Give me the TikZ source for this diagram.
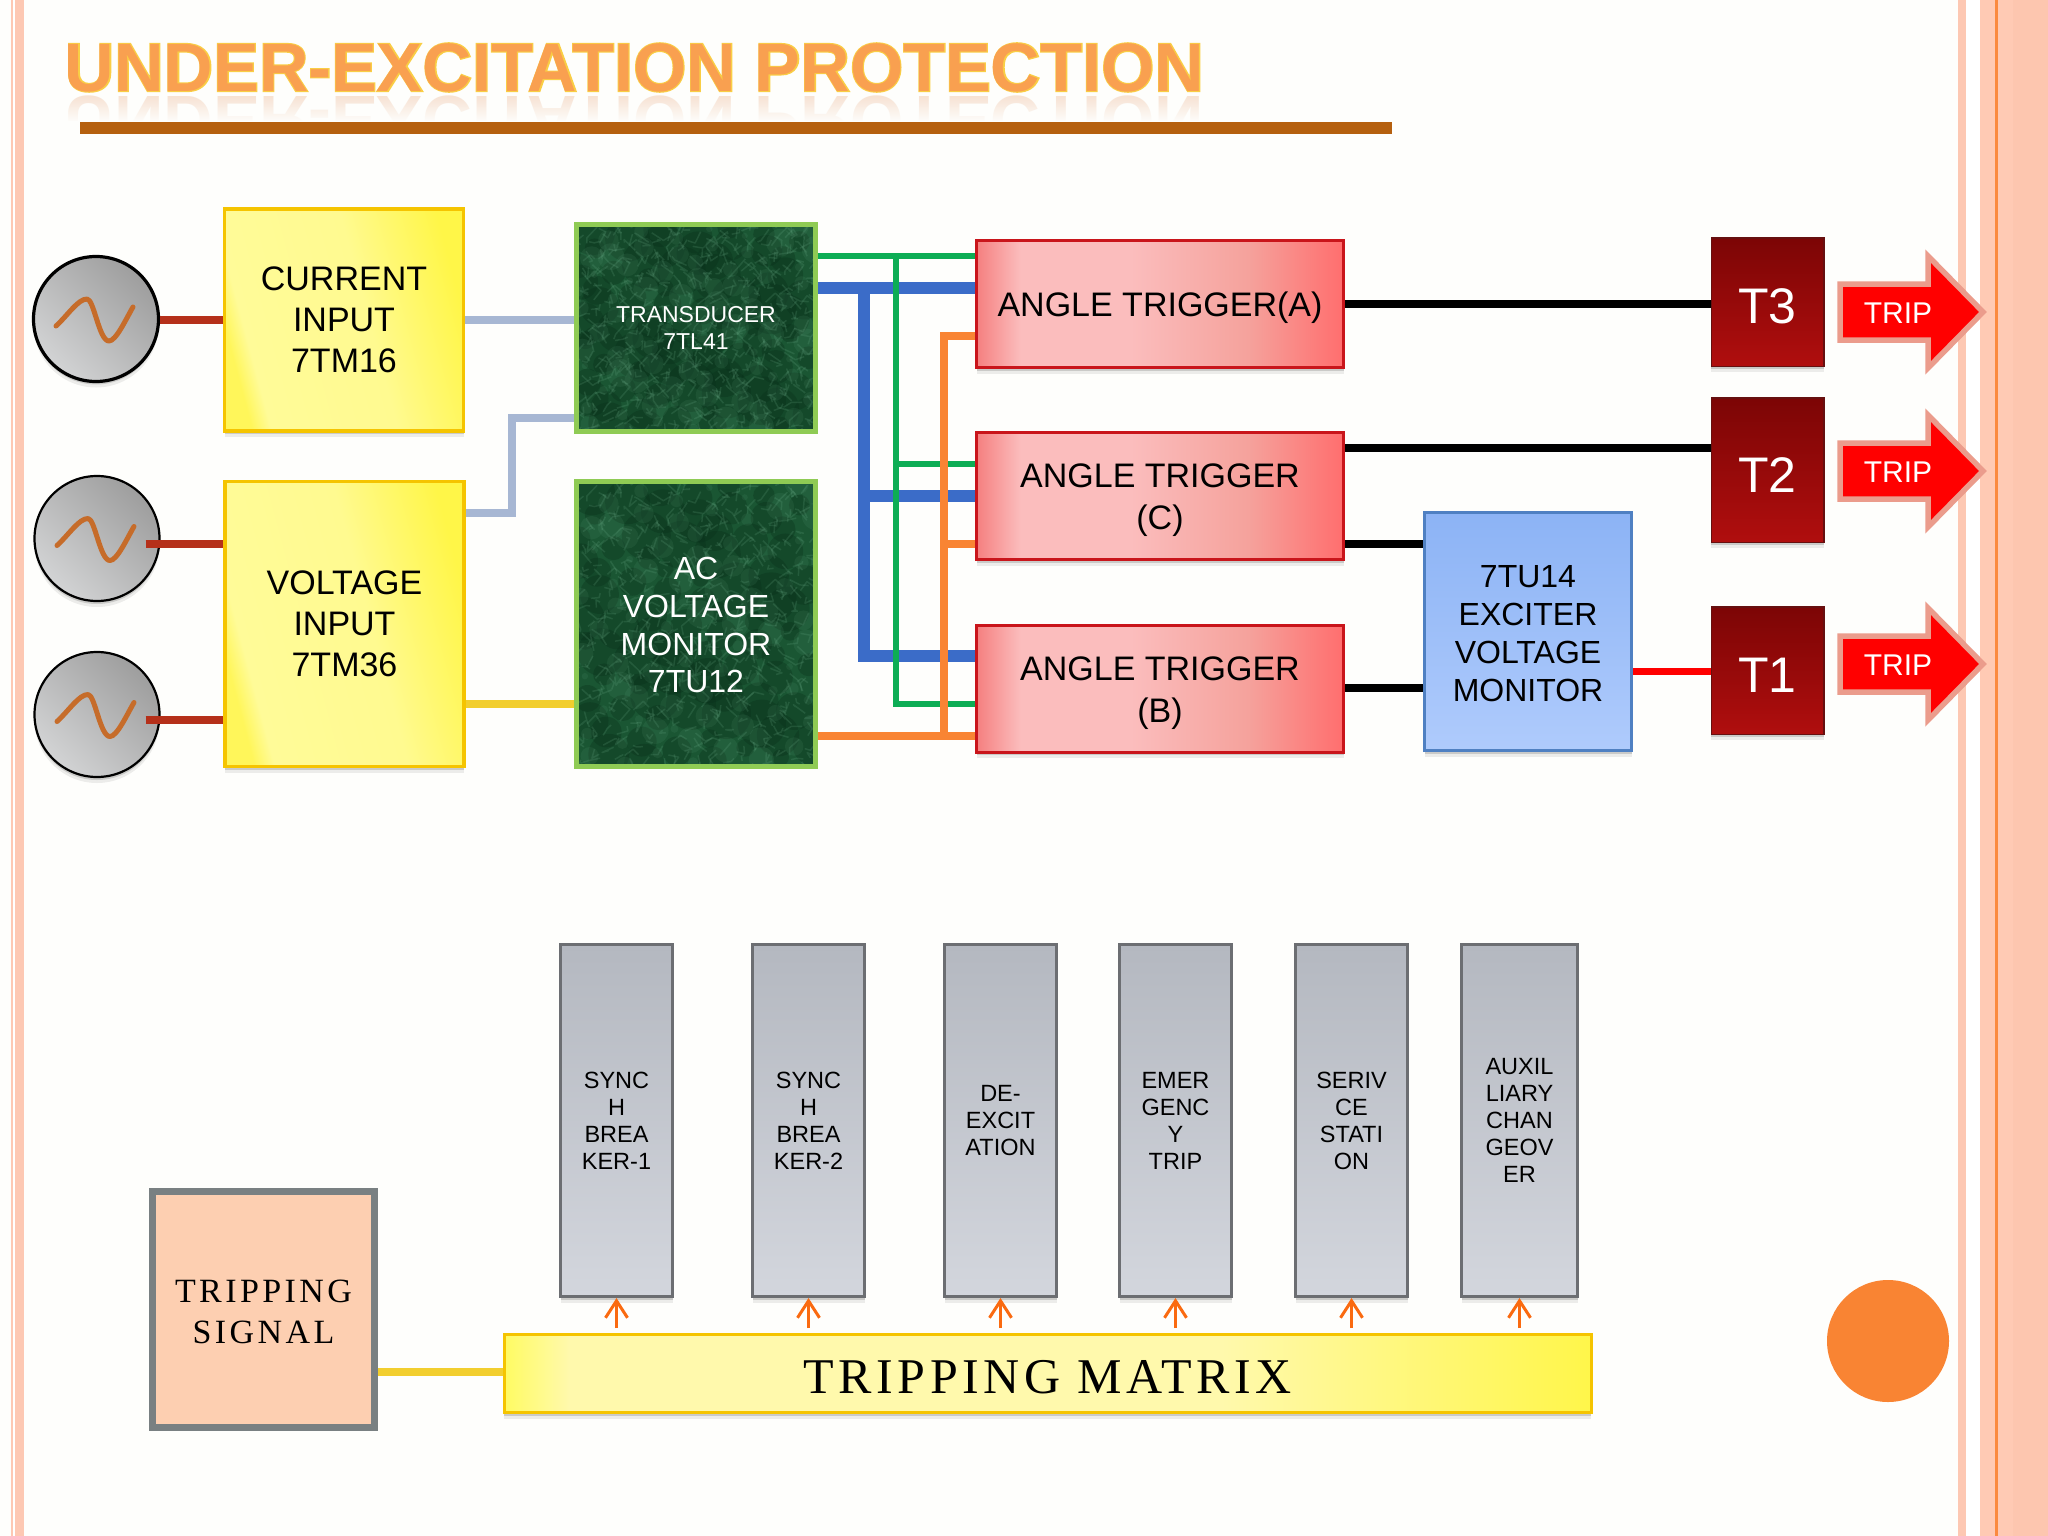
\documentclass[tikz,border=0pt]{standalone}
\usepackage{fontspec}
\setmainfont{Liberation Sans}
\newfontfamily\titlef{Liberation Sans Bold}
\newfontfamily\titlefb[FakeBold=3]{Liberation Sans Bold}
\newfontfamily\spserif[LetterSpace=9]{Liberation Serif}
\newfontfamily\spserifb[LetterSpace=10]{Liberation Serif}
\usetikzlibrary{shadows,arrows.meta,fadings}
\definecolor{bgc}{HTML}{FEFEFC}
\definecolor{stripe}{HTML}{FDC8B3}
\definecolor{stripeR}{HTML}{FFCAB4}
\definecolor{stripeD}{HTML}{FDC6AF}
\definecolor{stripeO}{HTML}{FB8A3F}
\definecolor{ruleb}{HTML}{B5600F}
\definecolor{titleo}{HTML}{F9A050}
\definecolor{titley}{HTML}{F9CE45}
\definecolor{titler}{HTML}{E8A578}
\definecolor{gold}{HTML}{F5C400}
\definecolor{wirered}{HTML}{B5301A}
\definecolor{wiregrey}{HTML}{A7B7D3}
\definecolor{wireyel}{HTML}{F2CE2E}
\definecolor{wblue}{HTML}{3B6CC8}
\definecolor{wgreen}{HTML}{0DAD55}
\definecolor{worange}{HTML}{F98433}
\definecolor{mgreen}{HTML}{8FCB54}
\definecolor{mbase}{HTML}{1A5633}
\definecolor{mdark}{HTML}{08301A}
\definecolor{mlight}{HTML}{6FB08C}
\definecolor{boxred}{HTML}{C9151B}
\definecolor{colgrey}{HTML}{6C6E72}
\definecolor{colA}{HTML}{B4B8C0}
\definecolor{colB}{HTML}{D3D6DD}
\definecolor{sigfill}{HTML}{FDCFB1}
\definecolor{siggrey}{HTML}{798082}
\definecolor{arrowo}{HTML}{EB9C8C}
\definecolor{darrow}{HTML}{FA6A10}
\definecolor{wavec}{HTML}{C66C2A}
\definecolor{excb}{HTML}{4F80C2}
\definecolor{exA}{HTML}{8CB3F5}
\definecolor{exB}{HTML}{AFCBFC}
\definecolor{tA}{HTML}{7C0505}
\definecolor{tB}{HTML}{B00E0E}
\definecolor{tE}{HTML}{661010}
\definecolor{yA}{HTML}{FFF65A}
\definecolor{yB}{HTML}{FFFB98}
\definecolor{yC}{HTML}{FFFA90}
\definecolor{yD}{HTML}{FFF648}
\definecolor{rA}{HTML}{F57F7F}
\definecolor{rB}{HTML}{FBBDBD}
\definecolor{rC}{HTML}{F5A29C}
\definecolor{rD}{HTML}{FF6E6E}
\definecolor{myA}{HTML}{FFFB62}
\definecolor{myB}{HTML}{FFF9AC}
\definecolor{myD}{HTML}{FFF64A}
\definecolor{cirA}{HTML}{D2D3D4}
\definecolor{cirB}{HTML}{9E9E9E}
\pgfdeclarehorizontalshading{redgrad}{100bp}{color(0bp)=(rA); color(25bp)=(rA); color(31bp)=(rB); color(46bp)=(rB); color(62bp)=(rC); color(75bp)=(rD); color(100bp)=(rD)}
\pgfdeclarehorizontalshading{matgrad}{100bp}{color(0bp)=(myA); color(25bp)=(myA); color(28bp)=(myB); color(58bp)=(myB); color(75bp)=(myD); color(100bp)=(myD)}
\pgfdeclarehorizontalshading{yelgrad}{100bp}{color(0bp)=(yA); color(25bp)=(yA); color(29bp)=(yB); color(55bp)=(yC); color(75bp)=(yD); color(100bp)=(yD)}
\newcommand{\marbleat}[4]{%
  \begin{scope}
  \path[clip] (#1-#3/2,#2-#4/2) rectangle (#1+#3/2,#2+#4/2);
  \fill[mbase] (#1-#3/2,#2-#4/2) rectangle (#1+#3/2,#2+#4/2);
  \begin{scope}[shift={(#1,#2)}]
  \foreach \i in {1,...,80}{%
    \pgfmathsetmacro\xa{(mod(\i*0.7548777,1)-.5)*#3}\pgfmathsetmacro\ya{(mod(\i*0.5698403,1)-.5)*#4}%
    \pgfmathsetmacro\rr{8+mod(\i*0.381966,1)*18}%
    \fill[mdark,opacity=.32] (\xa,\ya) circle (\rr);}
  \foreach \i in {81,...,170}{%
    \pgfmathsetmacro\xa{(mod(\i*0.7548777,1)-.5)*#3}\pgfmathsetmacro\ya{(mod(\i*0.5698403,1)-.5)*#4}%
    \pgfmathsetmacro\rr{3+mod(\i*0.381966,1)*11}%
    \fill[mlight,opacity=.1] (\xa,\ya) circle (\rr);}
  \foreach \i in {171,...,630}{%
    \pgfmathsetmacro\xa{(mod(\i*0.7548777,1)-.5)*#3}\pgfmathsetmacro\ya{(mod(\i*0.5698403,1)-.5)*#4}%
    \pgfmathsetmacro\xb{(mod(\i*0.2718281,1)-.5)*24}\pgfmathsetmacro\yb{(mod(\i*0.1414213,1)-.5)*24}%
    \pgfmathsetmacro\xc{(mod(\i*0.3141592,1)-.5)*18}\pgfmathsetmacro\yc{(mod(\i*0.1732050,1)-.5)*18}%
    \draw[mlight,opacity=.18,line width=1.5pt,line join=round] (\xa,\ya) -- ++(\xb,\yb) -- ++(\xc,\yc);}
  \end{scope}
  \end{scope}}
\tikzset{
  x=1pt,y=-1pt,
  softsh/.style={drop shadow={shadow xshift=0pt,shadow yshift=-6pt,opacity=.07,fill=black},drop shadow={shadow xshift=0pt,shadow yshift=-3pt,opacity=.14,fill=black}},
  base/.style={inner sep=0pt,align=center,text=black},
  yellowbox/.style={base,softsh,draw=gold,line width=3.5pt,shading=yelgrad,shading angle=15,font=\fontsize{34}{41}\selectfont,minimum width=239pt},
  marblebox/.style={base,draw=mgreen,line width=5.5pt,text=white,minimum width=239pt},
  redbox/.style={base,softsh,draw=boxred,line width=3pt,shading=redgrad,font=\fontsize{34}{42}\selectfont,minimum width=367pt,minimum height=127pt},
  tbox/.style={base,softsh,draw=tE,line width=1.5pt,top color=tA,bottom color=tB,text=white,font=\fontsize{50}{50}\selectfont,minimum width=112.5pt,text height=44pt},
  excbox/.style={base,softsh,draw=excb,line width=3pt,top color=exA,bottom color=exB,font=\fontsize{32}{38}\selectfont},
  colbox/.style={base,softsh,draw=colgrey,line width=3pt,top color=colA,bottom color=colB,font=\fontsize{23.5}{27}\selectfont,minimum height=352pt},
  gen/.style={circle,inner sep=0pt,minimum size=125pt,draw=black,left color=cirA,right color=cirB,shading angle=135,drop shadow={shadow xshift=0pt,shadow yshift=-6pt,opacity=.07,fill=black},drop shadow={shadow xshift=0pt,shadow yshift=-3pt,opacity=.14,fill=black}},
  wavepen/.style={draw=wavec,line width=5pt,line cap=round,line join=round},
  acwave/.pic={\draw[wavepen] (-40,7) .. controls (-28,-4) and (-18,-20) .. (-9,-20) .. controls (-2,-20) and (3,22) .. (13,22) .. controls (20,22) and (30,0) .. (37,-12);},
  wire/.style={preaction={draw=black,opacity=.1,transform canvas={yshift=-3pt}},line join=miter},
  wred/.style={wire,draw=wirered,line width=8pt},
  wgrey/.style={wire,draw=wiregrey,line width=8pt},
  wyel/.style={wire,draw=wireyel,line width=8pt},
  wbl/.style={draw=wblue,line width=12pt},
  wgr/.style={draw=wgreen,line width=6pt},
  wor/.style={draw=worange,line width=7.5pt},
  wblack/.style={wire,draw=black,line width=7.5pt},
  wrd/.style={draw=red,line width=7pt},
  triparrow/.style={draw=arrowo,line width=5.5pt,fill=red},
  triptext/.style={inner sep=0pt,text=white,font=\fontsize{30}{30}\selectfont},
  upar/.style={draw=darrow,line width=3pt,-{Straight Barb[length=17pt,width=22pt]}},
}
\newcommand{\triparrowat}[1]{\path[triparrow] (1840,#1-28) -- (1928,#1-28) -- (1928,#1-56) -- (1983,#1) -- (1928,#1+56) -- (1928,#1+28) -- (1840,#1+28) -- cycle;}
\newcommand{\lift}[1]{\rule{0pt}{#1pt}}
\begin{document}
\begin{tikzpicture}
\useasboundingbox (0,0) rectangle (2048,1536);
\fill[bgc] (0,0) rectangle (2048,1536);
% side stripes
\fill[stripe] (10.7,0) rectangle (12.7,1536);
\fill[white] (12.7,0) rectangle (15,1536);
\fill[stripe] (15,0) rectangle (24,1536);
\fill[stripe] (1958,0) rectangle (1966,1536);
\fill[white] (1966,0) rectangle (1980,1536);
\fill[stripeR] (1980,0) rectangle (2048,1536);
\fill[stripeD] (2013,0) rectangle (2048,1536);
\fill[stripeO] (1995,0) rectangle (1998,1536);
% title
\node[inner sep=0pt,yscale=-1,transform shape,opacity=.35,font=\titlef\fontsize{68.5}{68.5}\selectfont,text=titler] (titlerefl) at (634.5,120.5) {UNDER-EXCITATION PROTECTION};
\fill[bgc,path fading=north] (50,92) rectangle (1250,122);
\fill[bgc] (50,121) rectangle (1250,165);
\node[inner sep=0pt,font=\titlefb\fontsize{68.5}{68.5}\selectfont,text=titley] (titleedge) at (634.5,67.5) {UNDER-EXCITATION PROTECTION};
\node[inner sep=0pt,font=\titlef\fontsize{68.5}{68.5}\selectfont,text=titleo] (title) at (634.5,67.5) {UNDER-EXCITATION PROTECTION};
\fill[ruleb] (80,122) rectangle (1392,134);
% generators
\node[gen,line width=3.2pt] (g1) at (96,319) {};
\node[gen,line width=2.2pt] (g2) at (97,538.5) {};
\node[gen,line width=2.2pt] (g3) at (97,714.5) {};
\pic at (g1.center) {acwave};
\pic at (g2.center) {acwave};
\pic at (g3.center) {acwave};
% input boxes
\node[yellowbox,minimum height=222pt] (cur) at (344,320) {CURRENT\\INPUT\\7TM16};
\node[yellowbox,minimum height=285pt] (volt) at (344.5,624) {VOLTAGE\\INPUT\\7TM36};
% marble boxes
\marbleat{696}{328}{240}{208}
\marbleat{696}{624}{240}{286}
\node[marblebox,minimum height=207pt,font=\fontsize{23}{27}\selectfont] (trans) at (696,328) {TRANSDUCER\\7TL41};
\node[marblebox,minimum height=285pt,font=\fontsize{32}{37.6}\selectfont] (acv) at (696,624) {\lift{25}AC\\VOLTAGE\\MONITOR\\7TU12};
% trigger boxes
\node[redbox,text height=33pt] (ta) at (1160,304) {ANGLE TRIGGER(A)};
\node[redbox] (tc) at (1160,496) {\lift{33}ANGLE TRIGGER\\(C)};
\node[redbox] (tb) at (1160,688.5) {\lift{33}ANGLE TRIGGER\\(B)};
% exciter monitor
\node[excbox,minimum width=207pt,minimum height=238pt] (exc) at (1528,631.5) {\lift{27}7TU14\\EXCITER\\VOLTAGE\\MONITOR};
% T boxes
\node[tbox,minimum height=128.5pt] (t3) at (1767.5,302) {T3};
\node[tbox,minimum height=144.5pt] (t2) at (1767.5,470) {T2};
\node[tbox,minimum height=127.5pt] (t1) at (1767.5,670.5) {T1};
% trip arrows
\triparrowat{312}
\triparrowat{471}
\triparrowat{664}
\node[triptext] (trip3) at (1898,313) {TRIP};
\node[triptext] (trip2) at (1898,472) {TRIP};
\node[triptext] (trip1) at (1898,665) {TRIP};
% input wires
\draw[wred] (g1.east |- cur.west) -- (cur.west);
\draw[wred] ([xshift=-15pt]g2.east |- 0,544) -- (volt.west |- 0,544);
\draw[wred] ([xshift=-15pt]g3.east |- 0,720) -- (volt.west |- 0,720);
\draw[wgrey] (cur.east) -- (trans.west |- cur.east);
\coordinate (el) at (512,418);
\draw[wgrey] (trans.west |- el) -- (el) -- (el |- 0,513) -- (volt.east |- 0,513);
\draw[wyel] (volt.east |- 0,704) -- (acv.west |- 0,704);
% blue bus
\coordinate (bv) at (864,288);
\draw[wbl] (trans.east |- bv) -- (ta.west |- bv);
\draw[wbl] (bv) -- (bv |- 0,662);
\draw[wbl] (bv |- 0,496) -- (tc.west |- 0,496);
\draw[wbl] (858,656) -- (tb.west |- 0,656);
% green bus
\coordinate (gv) at (896,255.5);
\draw[wgr] (trans.east |- gv) -- (ta.west |- gv);
\draw[wgr] (gv) -- (gv |- 0,707);
\draw[wgr] (gv |- 0,464) -- (tc.west |- 0,464);
\draw[wgr] (gv |- 0,704) -- (tb.west |- 0,704);
% orange bus
\coordinate (ov) at (944,736);
\draw[wor] (acv.east |- ov) -- (tb.west |- ov);
\draw[wor] (ov) -- (ov |- 0,332);
\draw[wor] (ov |- 0,336) -- (ta.west |- 0,336);
\draw[wor] (ov |- 0,544) -- (tc.west |- 0,544);
% output wires
\draw[wblack] (ta.east) -- (t3.west |- ta.east);
\draw[wblack] (tc.east |- 0,448) -- (t2.west |- 0,448);
\draw[wblack] (tc.east |- 0,544) -- (exc.west |- 0,544);
\draw[wblack] (tb.east |- 0,688) -- (exc.west |- 0,688);
\draw[wrd] (exc.east |- 0,671) -- (t1.west |- 0,671);
% breaker columns
\node[colbox,minimum width=112pt] (c1) at (616.5,1120.5) {SYNC\\H\\BREA\\KER-1};
\node[colbox,minimum width=112pt] (c2) at (808.5,1120.5) {SYNC\\H\\BREA\\KER-2};
\node[colbox,minimum width=112pt] (c3) at (1000.5,1120.5) {DE-\\EXCIT\\ATION};
\node[colbox,minimum width=112pt] (c4) at (1175.5,1120.5) {EMER\\GENC\\Y\\TRIP};
\node[colbox,minimum width=112pt] (c5) at (1351.5,1120.5) {SERIV\\CE\\STATI\\ON};
\node[colbox,minimum width=116pt] (c6) at (1519.5,1120.5) {AUXIL\\LIARY\\CHAN\\GEOV\\ER};
% tripping
\node[base,softsh,draw=gold,line width=3pt,shading=matgrad,minimum width=1087pt,minimum height=78pt,text height=41pt,font=\spserif\fontsize{50}{50}\selectfont] (tm) at (1047.5,1373.5) {TRIPPING MATRIX};
\node[base,draw=siggrey,line width=6.5pt,fill=sigfill,minimum width=222pt,minimum height=236pt,font=\spserifb\fontsize{34}{41}\selectfont] (sig) at (263.5,1309.5) {\lift{27.5}TRIPPING\\SIGNAL};
\draw[wyel] (sig.east |- 0,1372) -- (tm.west |- 0,1372);
\foreach \c in {c1,c2,c3,c4,c5,c6}{
  \draw[upar,shorten <=5pt] (\c.south |- tm.north) -- (\c.south);
}
% accent disc
\fill[worange] (1888,1341) circle (61);
\end{tikzpicture}
\end{document}
